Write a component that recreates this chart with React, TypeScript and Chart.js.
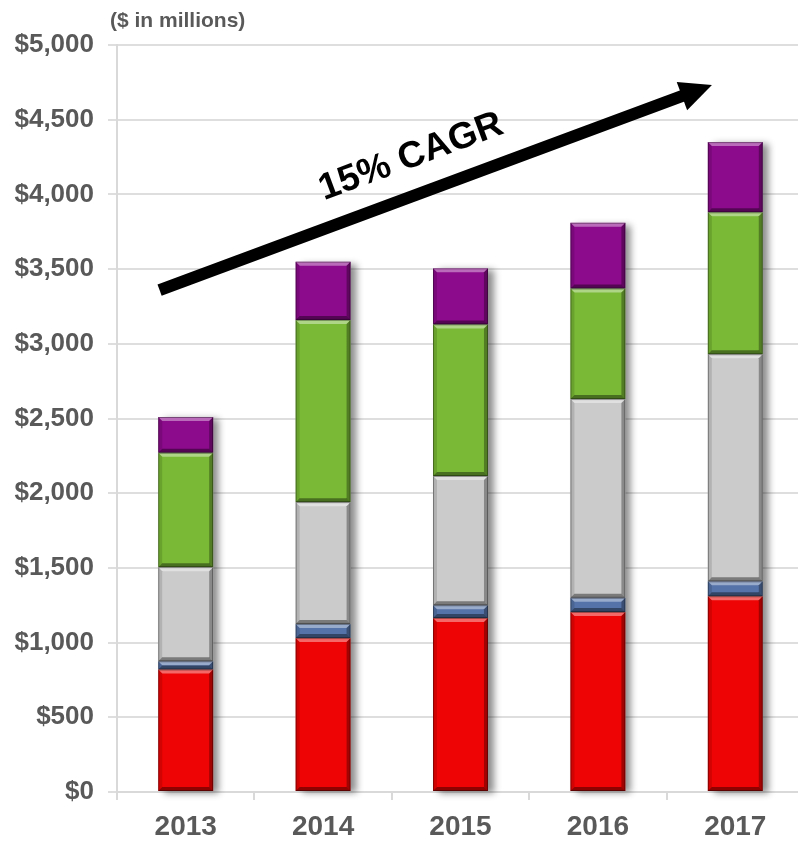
import React, { useEffect, useRef } from "react";
import { Chart, registerables } from "chart.js";

Chart.register(...registerables);

const categories = ["2013", "2014", "2015", "2016", "2017"];
const redValues = [820, 1030, 1165, 1205, 1310];
const blueValues = [55, 95, 85, 95, 100];
const greyValues = [630, 815, 865, 1330, 1520];
const greenValues = [765, 1220, 1015, 740, 950];
const purpleValues = [240, 390, 375, 440, 470];
const yMax = 5000;
const yStep = 500;
const subtitle = "($ in millions)";
const cagrLabel = "15% CAGR";
// arrow annotation in data coordinates: [category index, value]
const arrowStart = [-0.19, 3360];
const arrowEnd = [3.83, 4732];
const labelAnchor = [1.64, 4250];

const TEXT = "#595959";
const FONT = "'Liberation Sans', Arial, sans-serif";

const shadowPlugin = {
  id: "stackShadow",
  beforeDatasetsDraw(chart: any) {
    const ctx = chart.ctx;
    const n = chart.data.datasets.length;
    const first = chart.getDatasetMeta(0);
    const last = chart.getDatasetMeta(n - 1);
    ctx.save();
    ctx.shadowColor = "rgba(0,0,0,0.45)";
    ctx.shadowBlur = 7;
    ctx.shadowOffsetX = 6;
    ctx.shadowOffsetY = 2;
    ctx.fillStyle = "#ffffff";
    first.data.forEach((el: any, i: number) => {
      const top = last.data[i].y;
      const bottom = el.base;
      const w = el.width;
      ctx.fillRect(el.x - w / 2, top, w, bottom - top);
    });
    ctx.restore();
  },
};

const bevelPlugin = {
  id: "bevel",
  afterDatasetsDraw(chart: any) {
    const ctx = chart.ctx;
    const b = 4;
    chart.data.datasets.forEach((_: any, di: number) => {
      const meta = chart.getDatasetMeta(di);
      meta.data.forEach((el: any) => {
        const l = el.x - el.width / 2;
        const r = el.x + el.width / 2;
        const t = Math.min(el.y, el.base);
        const bt = Math.max(el.y, el.base);
        if (bt - t < 2 * b) {
          ctx.save();
          ctx.fillStyle = "rgba(255,255,255,0.25)";
          ctx.fillRect(l, t, r - l, (bt - t) / 2);
          ctx.fillStyle = "rgba(0,0,0,0.3)";
          ctx.fillRect(l, t + (bt - t) / 2, r - l, (bt - t) / 2);
          ctx.restore();
          return;
        }
        const poly = (pts: number[][], color: string) => {
          ctx.beginPath();
          ctx.moveTo(pts[0][0], pts[0][1]);
          for (let k = 1; k < pts.length; k++) ctx.lineTo(pts[k][0], pts[k][1]);
          ctx.closePath();
          ctx.fillStyle = color;
          ctx.fill();
        };
        ctx.save();
        poly([[l, t], [r, t], [r - b, t + b], [l + b, t + b]], "rgba(255,255,255,0.4)");
        poly([[l, bt], [r, bt], [r - b, bt - b], [l + b, bt - b]], "rgba(0,0,0,0.4)");
        poly([[l, t], [l + b, t + b], [l + b, bt - b], [l, bt]], "rgba(0,0,0,0.12)");
        poly([[r, t], [r - b, t + b], [r - b, bt - b], [r, bt]], "rgba(0,0,0,0.32)");
        ctx.strokeStyle = "rgba(0,0,0,0.35)";
        ctx.lineWidth = 1;
        ctx.strokeRect(l + 0.5, t + 0.5, r - l - 1, bt - t - 1);
        ctx.restore();
      });
    });
  },
};

const annotationPlugin = {
  id: "annot",
  afterDraw(chart: any) {
    const ctx = chart.ctx;
    const xs = chart.scales.x;
    const ys = chart.scales.y;
    const x1 = xs.getPixelForValue(arrowStart[0]);
    const y1 = ys.getPixelForValue(arrowStart[1]);
    const x2 = xs.getPixelForValue(arrowEnd[0]);
    const y2 = ys.getPixelForValue(arrowEnd[1]);
    const ang = Math.atan2(y2 - y1, x2 - x1);
    const headLen = 32;
    const headHalf = 15;
    const bx = x2 - headLen * Math.cos(ang);
    const by = y2 - headLen * Math.sin(ang);
    ctx.save();
    ctx.strokeStyle = "#000";
    ctx.lineWidth = 12;
    ctx.lineCap = "butt";
    ctx.beginPath();
    ctx.moveTo(x1, y1);
    ctx.lineTo(bx + 2 * Math.cos(ang), by + 2 * Math.sin(ang));
    ctx.stroke();
    ctx.fillStyle = "#000";
    ctx.beginPath();
    ctx.moveTo(x2, y2);
    ctx.lineTo(bx + headHalf * Math.sin(ang), by - headHalf * Math.cos(ang));
    ctx.lineTo(bx - headHalf * Math.sin(ang), by + headHalf * Math.cos(ang));
    ctx.closePath();
    ctx.fill();

    const lx = xs.getPixelForValue(labelAnchor[0]);
    const ly = ys.getPixelForValue(labelAnchor[1]);
    ctx.translate(lx, ly);
    ctx.rotate(ang);
    ctx.font = `bold 37px ${FONT}`;
    ctx.textAlign = "center";
    ctx.textBaseline = "middle";
    ctx.fillText(cagrLabel, 0, 0);
    ctx.restore();

    ctx.save();
    ctx.font = `bold 21px ${FONT}`;
    ctx.fillStyle = TEXT;
    ctx.textAlign = "left";
    ctx.textBaseline = "middle";
    ctx.fillText(subtitle, chart.chartArea.left - 7, ys.getPixelForValue(yMax) - 24);
    ctx.restore();
  },
};

export default function App() {
  const ref = useRef<HTMLCanvasElement>(null);
  useEffect(() => {
    const mk = (label: string, data: number[], color: string) => ({
      label,
      data,
      backgroundColor: color,
      borderWidth: 0,
      barPercentage: 0.4,
      categoryPercentage: 1,
    });
    const chart = new Chart(ref.current!, {
      type: "bar",
      data: {
        labels: categories,
        datasets: [
          mk("Red", redValues, "#EE0404"),
          mk("Blue", blueValues, "#5573A8"),
          mk("Grey", greyValues, "#CBCBCB"),
          mk("Green", greenValues, "#79B935"),
          mk("Purple", purpleValues, "#8C0A8C"),
        ],
      },
      options: {
        animation: false,
        responsive: false,
        devicePixelRatio: 1,
        layout: { padding: { top: 45, left: 0, right: 2, bottom: 0 } },
        plugins: { legend: { display: false }, tooltip: { enabled: false }, title: { display: false } },
        scales: {
          x: {
            stacked: true,
            offset: true,
            afterFit: (s: any) => {
              s.height = 49;
            },
            grid: {
              display: true,
              drawOnChartArea: false,
              drawTicks: true,
              tickLength: 8,
              color: "#D9D9D9",
              lineWidth: 2,
              offset: true,
            },
            border: { display: true, color: "#D9D9D9", width: 2 },
            ticks: {
              color: TEXT,
              font: { family: FONT, size: 28, weight: "bold" },
              padding: 10,
            },
          },
          y: {
            stacked: true,
            min: 0,
            max: yMax,
            afterFit: (s: any) => {
              s.width = 117;
            },
            grid: { color: "#DEDEDE", lineWidth: 2, tickLength: 9 },
            border: { display: true, color: "#D9D9D9", width: 2 },
            ticks: {
              stepSize: yStep,
              color: TEXT,
              padding: 14,
              font: { family: FONT, size: 26, weight: "bold" },
              callback: (v: any) => "$" + Number(v).toLocaleString("en-US"),
            },
          },
        },
      },
      plugins: [shadowPlugin, bevelPlugin, annotationPlugin],
    });
    return () => chart.destroy();
  }, []);
  return (
    <div style={{ position: "fixed", left: 0, top: 0, width: 798, height: 841, overflow: "hidden", background: "#fff" }}>
      <canvas ref={ref} width={806} height={841} style={{ width: 806, height: 841, display: "block" }} />
    </div>
  );
}
